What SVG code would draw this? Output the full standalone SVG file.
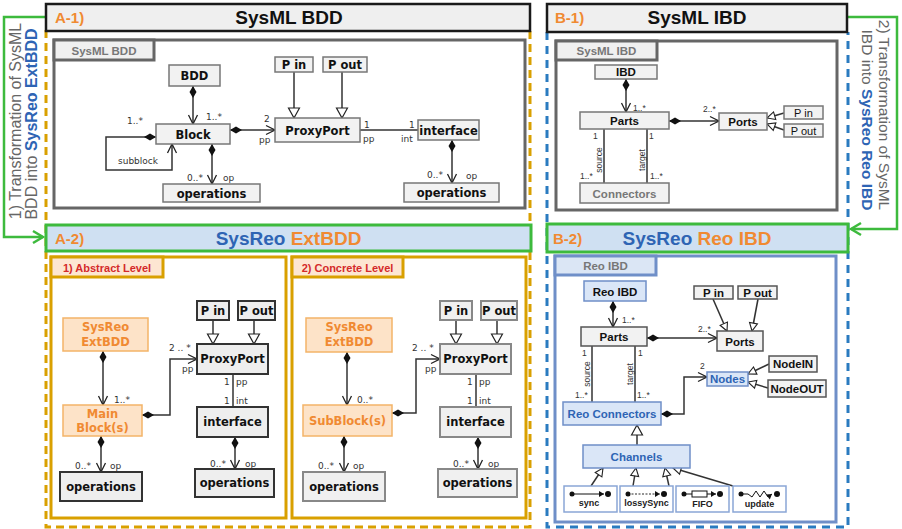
<svg xmlns="http://www.w3.org/2000/svg" width="902" height="529" viewBox="0 0 902 529">
<style>
  .hdrbox{fill:#efefef;stroke:#1a1a1a;stroke-width:2.5}
  .hdrbox2{fill:#cfe0f2;stroke:#3dba3d;stroke-width:3}
  .hdr{font-family:"Liberation Sans",Arial,sans-serif;font-weight:bold;font-size:19px;fill:#111}
  .tag{font-family:"Liberation Sans",Arial,sans-serif;font-weight:bold;font-size:15px;fill:#f08a32}
  .blue{fill:#2e64b4}
  .orng{fill:#f08a32}
  .side{font-family:"Liberation Sans",Arial,sans-serif;font-size:16px;fill:#666}
  .sideb{font-weight:bold;fill:#2e64b4}
  .panel{fill:#fff;stroke:#666;stroke-width:3}
  .tab{fill:#f0f0f0;stroke:#666;stroke-width:3}
  .tabt{font-family:"Liberation Sans",Arial,sans-serif;font-weight:bold;font-size:11.5px;fill:#777;text-anchor:middle}
  .gold{fill:#fff;stroke:#d9a000;stroke-width:3}
  .goldtab{fill:#fde6d2;stroke:#d9a000;stroke-width:3}
  .redt{font-family:"Liberation Sans",Arial,sans-serif;font-weight:bold;font-size:11px;fill:#d42a2a;text-anchor:middle}
  .bpanel{fill:#fff;stroke:#6f8fc8;stroke-width:3}
  .btab{fill:#dbe6f5;stroke:#6f8fc8;stroke-width:3}
  .dashO{fill:none;stroke:#d9a000;stroke-width:3;stroke-dasharray:8 5}
  .dashB{fill:none;stroke:#2a7bc0;stroke-width:3;stroke-dasharray:8 6}
  .grn{fill:none;stroke:#3dba3d;stroke-width:2.5}
  .n1{fill:#f2f2f2;stroke:#777;stroke-width:1.5}
  .nd{fill:#eeeeee;stroke:#333;stroke-width:2}
  .ng{fill:#f0f0f0;stroke:#888;stroke-width:2}
  .no{fill:#fde3c8;stroke:#f3b468;stroke-width:1.5}
  .nb{fill:#dae6f7;stroke:#6f8fc8;stroke-width:1.5}
  .nw{fill:#f2f2f2;stroke:#555;stroke-width:1.5}
  .nicon{fill:#fff;stroke:#8aa6d6;stroke-width:1.5}
  .v{font-family:"DejaVu Sans",Verdana,sans-serif;font-weight:bold;font-size:11.5px;fill:#111;text-anchor:middle}
  .vo{fill:#f08a32}
  .a{font-family:"Liberation Sans",Arial,sans-serif;font-weight:bold;font-size:11.5px;fill:#111;text-anchor:middle}
  .ar{font-weight:normal;font-size:11px}
  .ab{fill:#2e64b4}
  .agr{fill:#777}
  .lbl{font-family:"DejaVu Sans",Verdana,sans-serif;font-size:9px;fill:#333}
  .lbs{font-family:"Liberation Sans",Arial,sans-serif;font-size:8.5px;fill:#333}
  .ic{font-family:"Liberation Sans",Arial,sans-serif;font-weight:bold;font-size:9px;fill:#222;text-anchor:middle}
  .ln{fill:none;stroke:#333;stroke-width:1.5}
  .comp{marker-start:url(#dia);marker-end:url(#open)}
  .gen{marker-end:url(#tri)}
  .gens{marker-end:url(#tris)}
</style>
<defs>
  <marker id="dia" viewBox="0 -4 12 8" refX="0" refY="0" markerWidth="12" markerHeight="8" orient="auto" markerUnits="userSpaceOnUse">
    <path d="M0,0 L6,-3.5 L12,0 L6,3.5 Z" fill="#111"/>
  </marker>
  <marker id="open" viewBox="-11 -6 12 12" refX="0" refY="0" markerWidth="12" markerHeight="12" orient="auto" markerUnits="userSpaceOnUse">
    <path d="M-9,-4.5 L0,0 L-9,4.5" fill="none" stroke="#222" stroke-width="1.3"/>
  </marker>
  <marker id="tri" viewBox="-12 -7 14 14" refX="0" refY="0" markerWidth="14" markerHeight="14" orient="auto" markerUnits="userSpaceOnUse">
    <path d="M-10,-5.5 L0,0 L-10,5.5 Z" fill="#fff" stroke="#222" stroke-width="1.2"/>
  </marker>
  <marker id="tris" viewBox="-10 -6 12 12" refX="0" refY="0" markerWidth="12" markerHeight="12" orient="auto" markerUnits="userSpaceOnUse">
    <path d="M-8,-4 L0,0 L-8,4 Z" fill="#fff" stroke="#222" stroke-width="1.1"/>
  </marker>
  <marker id="garrow" viewBox="-12 -8 14 16" refX="0" refY="0" markerWidth="14" markerHeight="16" orient="auto" markerUnits="userSpaceOnUse">
    <path d="M-10,-6 L0,0 L-10,6" fill="none" stroke="#3dba3d" stroke-width="2.5"/>
  </marker>
  <marker id="ichead" viewBox="-6 -4 7 8" refX="0" refY="0" markerWidth="7" markerHeight="8" orient="auto" markerUnits="userSpaceOnUse">
    <path d="M-5,-3 L0,0 L-5,3 Z" fill="#111"/>
  </marker>
</defs>

<!-- dashed region outlines -->
<g id="regions">
  <path class="dashO" d="M46,30 L46,527 L530,527 L530,30"/>
  <path class="dashB" d="M547,32 L547,527 L848,527 L848,32"/>
</g>

<!-- transformation arrows -->
<g id="transform-left">
  <path class="grn" d="M46,17 L4,17 L4,237 L43,237" marker-end="url(#garrow)"/>
  <text class="side" transform="translate(21,121) rotate(-90)" text-anchor="middle">1) Transformation of SysML</text>
  <text class="side" transform="translate(37,124) rotate(-90)" text-anchor="middle">BDD into <tspan class="sideb">SysReo ExtBDD</tspan></text>
</g>
<g id="transform-right">
  <path class="grn" d="M847,17 L897,17 L897,229 L851,229" marker-end="url(#garrow)"/>
  <text class="side" transform="translate(879,115) rotate(90)" text-anchor="middle" style="font-size:15.5px">2) Transformation of SysML</text>
  <text class="side" transform="translate(862,120) rotate(90)" text-anchor="middle" style="font-size:15.5px">IBD into <tspan class="sideb">SysReo Reo IBD</tspan></text>
</g>

<!-- section headers -->
<g id="hdr-a1">
  <rect class="hdrbox" x="46" y="4" width="484" height="27"/>
  <text class="tag" x="55" y="23">A-1)</text>
  <text class="hdr" x="289" y="24" text-anchor="middle">SysML BDD</text>
</g>
<g id="hdr-b1">
  <rect class="hdrbox" x="547" y="4" width="300" height="28"/>
  <text class="tag" x="555" y="23">B-1)</text>
  <text class="hdr" x="697" y="24" text-anchor="middle">SysML IBD</text>
</g>
<g id="hdr-a2">
  <rect class="hdrbox2" x="46" y="225" width="485" height="26"/>
  <text class="tag" x="55" y="244">A-2)</text>
  <text class="hdr" x="288.5" y="245" text-anchor="middle"><tspan class="blue">SysReo</tspan> <tspan class="orng">ExtBDD</tspan></text>
</g>
<g id="hdr-b2">
  <rect class="hdrbox2" x="547" y="224" width="301" height="28"/>
  <text class="tag" x="553" y="244">B-2)</text>
  <text class="hdr" x="697" y="245" text-anchor="middle"><tspan class="blue">SysReo</tspan> <tspan class="orng">Reo IBD</tspan></text>
</g>

<!-- ===== A-1 SysML BDD ===== -->
<g id="panel-a1">
  <rect class="panel" x="54" y="40" width="471" height="168"/>
  <rect class="tab" x="54" y="40" width="100" height="20"/>
  <text class="tabt" x="104" y="54.5">SysML BDD</text>
</g>
<g id="a1-connectors">
  <path class="ln comp" d="M193,86 L193,124"/>
  <path class="ln comp" d="M156,137 L106,137 L106,170 L172,170 L172,144"/>
  <path class="ln comp" d="M230,130 L275,130"/>
  <path class="ln comp" d="M212,144 L212,184"/>
  <path class="ln gen" d="M294,72 L294,118"/>
  <path class="ln gen" d="M342,72 L342,118"/>
  <path class="ln" d="M360,130 L418,130"/>
  <path class="ln comp" d="M452,140 L452,183"/>
  <text class="lbl" x="206" y="120">1..*</text>
  <text class="lbl" x="127" y="124">1..*</text>
  <text class="lbl" x="118" y="164">subblock</text>
  <text class="lbl" x="264" y="122">2</text>
  <text class="lbl" x="259" y="143">pp</text>
  <text class="lbl" x="187" y="181">0..*</text>
  <text class="lbl" x="223" y="181">op</text>
  <text class="lbl" x="364" y="128">1</text>
  <text class="lbl" x="363" y="142">pp</text>
  <text class="lbl" x="409" y="128">1</text>
  <text class="lbl" x="401" y="142">int</text>
  <text class="lbl" x="427" y="178">0..*</text>
  <text class="lbl" x="466" y="179">op</text>
</g>
<g id="a1-bdd"><rect class="n1" x="169" y="65" width="51" height="21"/><text class="v" x="194.5" y="80">BDD</text></g>
<g id="a1-block"><rect class="n1" x="156" y="124" width="74" height="20"/><text class="v" x="193" y="138.5">Block</text></g>
<g id="a1-ops1"><rect class="n1" x="163" y="184" width="97" height="18"/><text class="v" x="211.5" y="197.5">operations</text></g>
<g id="a1-pin"><rect class="n1" x="275" y="57" width="38" height="15"/><text class="v" x="294" y="69">P in</text></g>
<g id="a1-pout"><rect class="n1" x="323" y="57" width="44" height="15"/><text class="v" x="345" y="69">P out</text></g>
<g id="a1-proxy"><rect class="n1" x="275" y="118" width="85" height="24"/><text class="v" x="317.5" y="134.5">ProxyPort</text></g>
<g id="a1-iface"><rect class="n1" x="418" y="120" width="61" height="20"/><text class="v" x="448.5" y="134.5">interface</text></g>
<g id="a1-ops2"><rect class="n1" x="404" y="183" width="95" height="19"/><text class="v" x="451.5" y="197">operations</text></g>

<!-- ===== B-1 SysML IBD ===== -->
<g id="panel-b1">
  <rect class="panel" x="556" y="41" width="281" height="169"/>
  <rect class="tab" x="556" y="41" width="101" height="19"/>
  <text class="tabt" x="606.5" y="55">SysML IBD</text>
</g>
<g id="b1-connectors">
  <path class="ln comp" d="M626,79 L626,112"/>
  <path class="ln comp" d="M669,121 L719,121"/>
  <path class="ln gens" d="M784,113 L767,118"/>
  <path class="ln gens" d="M784,130 L767,124"/>
  <path class="ln" d="M604,129 L604,183"/>
  <path class="ln" d="M647,129 L647,183"/>
  <text class="lbs" x="633" y="111">1..*</text>
  <text class="lbs" x="703" y="112">2..*</text>
  <text class="lbs" x="593" y="139">1</text>
  <text class="lbs" x="649" y="139">1</text>
  <text class="lbs" transform="translate(602,160) rotate(-90)" text-anchor="middle">source</text>
  <text class="lbs" transform="translate(645,160) rotate(-90)" text-anchor="middle">target</text>
  <text class="lbs" x="580" y="179">1..*</text>
  <text class="lbs" x="650" y="179">1..*</text>
</g>
<g id="b1-ibd"><rect class="n1" x="595" y="65" width="62" height="14"/><text class="a" x="626" y="76">IBD</text></g>
<g id="b1-parts"><rect class="n1" x="580" y="112" width="89" height="17"/><text class="a" x="624.5" y="125">Parts</text></g>
<g id="b1-ports"><rect class="n1" x="719" y="113" width="48" height="17"/><text class="a" x="743" y="126">Ports</text></g>
<g id="b1-pin"><rect class="n1" x="784" y="106" width="39" height="13"/><text class="a ar" x="803.5" y="116.5">P in</text></g>
<g id="b1-pout"><rect class="n1" x="784" y="124" width="39" height="13"/><text class="a ar" x="803.5" y="134.5">P out</text></g>
<g id="b1-conn"><rect class="n1" x="580" y="183" width="89" height="20"/><text class="a agr" x="624.5" y="197.5">Connectors</text></g>

<!-- ===== A-2 SysReo ExtBDD ===== -->
<g id="panel-abstract">
  <rect class="gold" x="51" y="257" width="235" height="261"/>
  <rect class="goldtab" x="51" y="257" width="112" height="20"/>
  <text class="redt" x="107" y="271.5">1) Abstract Level</text>
</g>
<g id="panel-concrete">
  <rect class="gold" x="292" y="257" width="234" height="261"/>
  <rect class="goldtab" x="292" y="257" width="111" height="20"/>
  <text class="redt" x="347.5" y="271.5">2) Concrete Level</text>
</g>

<g id="abs-connectors">
  <path class="ln comp" d="M103,351 L103,405"/>
  <path class="ln comp" d="M142,415 L170,415 L170,359 L197,359"/>
  <path class="ln gen" d="M213,320 L213,344"/>
  <path class="ln gen" d="M254,320 L254,344"/>
  <path class="ln" d="M233,374 L233,407"/>
  <path class="ln comp" d="M235,437 L235,469"/>
  <path class="ln comp" d="M101,436 L101,472"/>
  <text class="lbl" x="114" y="403">1..*</text>
  <text class="lbl" x="169" y="351">2 .. *</text>
  <text class="lbl" x="182" y="372">pp</text>
  <text class="lbl" x="224" y="385">1</text>
  <text class="lbl" x="236" y="385">pp</text>
  <text class="lbl" x="224" y="404">1</text>
  <text class="lbl" x="236" y="404">int</text>
  <text class="lbl" x="210" y="467">0..*</text>
  <text class="lbl" x="245" y="467">op</text>
  <text class="lbl" x="75" y="469">0..*</text>
  <text class="lbl" x="110" y="469">op</text>
</g>
<g id="abs-ext"><rect class="no" x="63" y="318" width="85" height="33"/><text class="v vo" x="105.5" y="331">SysReo</text><text class="v vo" x="105.5" y="345.5">ExtBDD</text></g>
<g id="abs-main"><rect class="no" x="63" y="405" width="79" height="31"/><text class="v vo" x="102.5" y="418">Main</text><text class="v vo" x="102.5" y="432">Block(s)</text></g>
<g id="abs-pin"><rect class="nd" x="197" y="301" width="32" height="19"/><text class="v" x="213" y="315">P in</text></g>
<g id="abs-pout"><rect class="nd" x="238" y="301" width="37" height="19"/><text class="v" x="256.5" y="315">P out</text></g>
<g id="abs-proxy"><rect class="nd" x="197" y="344" width="71" height="30"/><text class="v" x="232.5" y="363">ProxyPort</text></g>
<g id="abs-iface"><rect class="nd" x="197" y="407" width="71" height="30"/><text class="v" x="232.5" y="426">interface</text></g>
<g id="abs-ops2"><rect class="nd" x="195" y="469" width="79" height="28"/><text class="v" x="234.5" y="487">operations</text></g>
<g id="abs-ops1"><rect class="nd" x="60" y="472" width="82" height="29"/><text class="v" x="101" y="490.5">operations</text></g>

<g id="con-connectors">
  <path class="ln comp" d="M347,352 L347,405"/>
  <path class="ln comp" d="M392,413 L416,413 L416,359 L440,359"/>
  <path class="ln gen" d="M456,320 L456,344"/>
  <path class="ln gen" d="M497,320 L497,344"/>
  <path class="ln" d="M476,374 L476,407"/>
  <path class="ln comp" d="M478,437 L478,469"/>
  <path class="ln comp" d="M344,436 L344,472"/>
  <text class="lbl" x="357" y="403">0..*</text>
  <text class="lbl" x="412" y="351">2 .. *</text>
  <text class="lbl" x="425" y="372">pp</text>
  <text class="lbl" x="467" y="385">1</text>
  <text class="lbl" x="479" y="385">pp</text>
  <text class="lbl" x="467" y="404">1</text>
  <text class="lbl" x="479" y="404">int</text>
  <text class="lbl" x="453" y="467">0..*</text>
  <text class="lbl" x="488" y="467">op</text>
  <text class="lbl" x="318" y="469">0..*</text>
  <text class="lbl" x="353" y="469">op</text>
</g>
<g id="con-ext"><rect class="no" x="306" y="318" width="86" height="34"/><text class="v vo" x="349" y="331">SysReo</text><text class="v vo" x="349" y="346">ExtBDD</text></g>
<g id="con-sub"><rect class="no" x="303" y="405" width="89" height="31"/><text class="v vo" x="347.5" y="425">SubBlock(s)</text></g>
<g id="con-pin"><rect class="ng" x="440" y="301" width="32" height="19"/><text class="v" x="456" y="315">P in</text></g>
<g id="con-pout"><rect class="ng" x="481" y="301" width="36" height="19"/><text class="v" x="499" y="315">P out</text></g>
<g id="con-proxy"><rect class="ng" x="440" y="344" width="71" height="30"/><text class="v" x="475.5" y="363">ProxyPort</text></g>
<g id="con-iface"><rect class="ng" x="440" y="407" width="71" height="30"/><text class="v" x="475.5" y="426">interface</text></g>
<g id="con-ops2"><rect class="ng" x="438" y="469" width="79" height="28"/><text class="v" x="477.5" y="487">operations</text></g>
<g id="con-ops1"><rect class="ng" x="303" y="472" width="82" height="29"/><text class="v" x="344" y="490.5">operations</text></g>

<!-- ===== B-2 SysReo Reo IBD ===== -->
<g id="panel-b2">
  <rect class="bpanel" x="555" y="256" width="281" height="266"/>
  <rect class="btab" x="555" y="256" width="101" height="19"/>
  <text class="tabt" x="605.5" y="270">Reo IBD</text>
</g>
<g id="b2-connectors">
  <path class="ln comp" d="M613,301 L613,327"/>
  <path class="ln comp" d="M647,338 L717,338"/>
  <path class="ln gens" d="M713,299 L727,331"/>
  <path class="ln gens" d="M758,299 L752,331"/>
  <path class="ln" d="M592,346 L592,402"/>
  <path class="ln" d="M635,346 L635,402"/>
  <path class="ln gens" d="M769,364 L748,374"/>
  <path class="ln gens" d="M768,388 L748,382"/>
  <path class="ln comp" d="M661,414 L684,414 L684,377 L707,377"/>
  <path class="ln gen" d="M637,445 L637,425"/>
  <path class="ln gens" d="M591,486 L603,468"/>
  <path class="ln gens" d="M633,486 L636,468"/>
  <path class="ln gens" d="M669,486 L665,468"/>
  <path class="ln gens" d="M733,486 L673,468"/>
  <text class="lbs" x="622" y="323">1..*</text>
  <text class="lbs" x="698" y="332">2..*</text>
  <text class="lbs" x="582" y="356">1</text>
  <text class="lbs" x="638" y="356">1</text>
  <text class="lbs" transform="translate(590,374) rotate(-90)" text-anchor="middle">source</text>
  <text class="lbs" transform="translate(633,374) rotate(-90)" text-anchor="middle">target</text>
  <text class="lbs" x="575" y="398">1..*</text>
  <text class="lbs" x="637" y="398">1..*</text>
  <text class="lbs" x="700" y="369">2</text>
</g>
<g id="b2-reoibd"><rect class="nb" x="584" y="281" width="62" height="20"/><text class="a" x="615" y="295.5">Reo IBD</text></g>
<g id="b2-parts"><rect class="nw" x="581" y="327" width="66" height="19"/><text class="a" x="614" y="341">Parts</text></g>
<g id="b2-ports"><rect class="nw" x="717" y="331" width="46" height="20"/><text class="a" x="740" y="345.5">Ports</text></g>
<g id="b2-pin"><rect class="nw" x="694" y="286" width="39" height="13"/><text class="a" x="713.5" y="296.5">P in</text></g>
<g id="b2-pout"><rect class="nw" x="738" y="286" width="39" height="13"/><text class="a" x="757.5" y="296.5">P out</text></g>
<g id="b2-nodein"><rect class="nw" x="769" y="356" width="48" height="16"/><text class="a" x="793" y="368">NodeIN</text></g>
<g id="b2-nodeout"><rect class="nw" x="768" y="380" width="58" height="17"/><text class="a" x="797" y="392.5">NodeOUT</text></g>
<g id="b2-nodes"><rect class="nb" x="707" y="372" width="41" height="14"/><text class="a ab" x="727.5" y="383">Nodes</text></g>
<g id="b2-reoconn"><rect class="nb" x="563" y="402" width="98" height="23"/><text class="a ab" x="612" y="418">Reo Connectors</text></g>
<g id="b2-channels"><rect class="nb" x="583" y="445" width="107" height="23"/><text class="a ab" x="636.5" y="461">Channels</text></g>

<g id="ch-sync">
  <rect class="nicon" x="564" y="486" width="53" height="26"/>
  <line x1="572" y1="494" x2="604" y2="494" stroke="#111" stroke-width="1" marker-end="url(#ichead)"/>
  <circle cx="572" cy="494" r="2.5" fill="#111"/><circle cx="608" cy="494" r="3" fill="#111"/>
  <text class="ic" x="589" y="506">sync</text>
</g>
<g id="ch-lossy">
  <rect class="nicon" x="620" y="486" width="53" height="26"/>
  <line x1="628" y1="494" x2="660" y2="494" stroke="#111" stroke-width="0.9" stroke-dasharray="2 1.5" marker-end="url(#ichead)"/>
  <circle cx="628" cy="494" r="2.5" fill="#111"/><circle cx="664" cy="494" r="3" fill="#111"/>
  <text class="ic" x="646.5" y="506">lossySync</text>
</g>
<g id="ch-fifo">
  <rect class="nicon" x="676" y="486" width="53" height="26"/>
  <line x1="684" y1="494" x2="692" y2="494" stroke="#111" stroke-width="1"/>
  <rect x="692" y="491" width="15" height="6" fill="#fff" stroke="#111" stroke-width="1"/>
  <line x1="707" y1="494" x2="716" y2="494" stroke="#111" stroke-width="1" marker-end="url(#ichead)"/>
  <circle cx="684" cy="494" r="2.5" fill="#111"/><circle cx="720" cy="494" r="3" fill="#111"/>
  <text class="ic" x="702.5" y="507">FIFO</text>
</g>
<g id="ch-update">
  <rect class="nicon" x="733" y="486" width="53" height="26"/>
  <path d="M741,494 L748,494 L752,497 L756,491 L760,497 L764,491 L768,497 L772,494" fill="none" stroke="#111" stroke-width="1" marker-end="url(#ichead)"/>
  <circle cx="741" cy="494" r="2.5" fill="#111"/><circle cx="777" cy="494" r="3" fill="#111"/>
  <text class="ic" x="759.5" y="507">update</text>
</g>
</svg>
